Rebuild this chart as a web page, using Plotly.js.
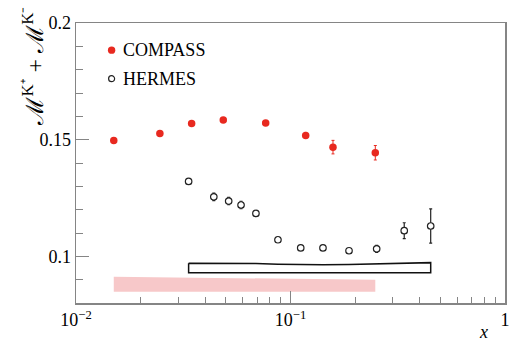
<!DOCTYPE html>
<html>
<head>
<meta charset="utf-8">
<script src="https://cdn.plot.ly/plotly-3.0.1.min.js"></script>
<style>
  html, body { margin: 0; padding: 0; background: #fff; }
  #chart { width: 519px; height: 345px; }
</style>
</head>
<body>
<div id="chart"></div>
<script>
// COMPASS multiplicity sum
const compassX = [0.0150, 0.0246, 0.0346, 0.0486, 0.0766, 0.1177, 0.1578, 0.2485];
const compassY = [0.1496, 0.1526, 0.1569, 0.1584, 0.1571, 0.1518, 0.1468, 0.1444];
const compassErr = [0.0008, 0.0008, 0.0008, 0.0008, 0.0009, 0.0013, 0.0029, 0.0031];
const compassSysTop = [0.0912, 0.0910, 0.0908, 0.0907, 0.0905, 0.0903, 0.0901, 0.0900];
const compassSysBase = 0.0848;

// HERMES multiplicity sum
const hermesX = [0.0335, 0.0439, 0.0515, 0.0588, 0.0690, 0.0874, 0.1116, 0.1417, 0.1874, 0.2522, 0.339, 0.4504];
const hermesY = [0.1321, 0.1255, 0.1237, 0.1220, 0.1184, 0.1071, 0.1036, 0.1036, 0.1024, 0.1032, 0.1110, 0.1130];
const hermesErr = [0.0008, 0.0016, 0.0016, 0.0016, 0.0009, 0.0008, 0.0008, 0.0008, 0.0009, 0.0015, 0.0034, 0.0073];
const hermesSysTop = [0.0970, 0.0970, 0.0970, 0.0970, 0.0969, 0.0966, 0.0964, 0.0964, 0.0965, 0.0967, 0.0972, 0.0973];
const hermesSysBase = 0.0930;

const xTicks = [0.01, 0.1, 1];
const xTickText = ["10<sup>−2</sup>", "10<sup>−1</sup>", "1"];
const yTicks = [0.1, 0.15, 0.2];
const yTickText = ["0.1", "0.15", "0.2"];

const red = "#e8291f";
const frame = "#858585";

// closed outline: top edge left->right, base right->left
function band(xs, top, base) {
    const bx = xs.concat(xs.slice().reverse(), [xs[0]]);
    const by = top.concat(xs.map(() => base), [top[0]]);
    return { bx, by };
}
const cb = band(compassX, compassSysTop, compassSysBase);
const hb = band(hermesX, hermesSysTop, hermesSysBase);

// minor ticks for the log axis
const xMinor = [];
[0.01, 0.1].forEach(d => { for (let k = 2; k <= 9; k++) xMinor.push(d * k); });

const data = [
    {
        x: cb.bx, y: cb.by, mode: "lines", fill: "toself",
        fillcolor: "#f7c8c9", line: { width: 0, color: "#f7c8c9" },
        hoverinfo: "skip", showlegend: false
    },
    {
        x: hb.bx, y: hb.by, mode: "lines", fill: "none",
        line: { width: 1.5, color: "#111" },
        hoverinfo: "skip", showlegend: false
    },
    {
        x: compassX, y: compassY, mode: "markers", name: "COMPASS",
        marker: { color: red, size: 7.5, symbol: "circle" },
        error_y: { type: "data", array: compassErr, color: red, thickness: 1, width: 1.5 },
        showlegend: false
    },
    {
        x: hermesX, y: hermesY, mode: "markers", name: "HERMES",
        marker: { color: "#fff", size: 6.5, symbol: "circle", line: { color: "#222", width: 1.2 } },
        error_y: { type: "data", array: hermesErr, color: "#222", thickness: 1.2, width: 1.5 },
        showlegend: false
    }
];

const font = { family: "Liberation Serif, Times New Roman, serif", size: 18, color: "#000" };

const layout = {
    width: 519,
    height: 345,
    margin: { l: 76, r: 14, t: 23, b: 42 },
    paper_bgcolor: "#fff",
    plot_bgcolor: "#fff",
    font: font,
    showlegend: false,
    xaxis: {
        type: "log",
        range: [-2, 0],
        tickmode: "array",
        tickvals: xTicks,
        ticktext: xTickText,
        ticks: "inside",
        ticklen: 12,
        tickwidth: 1,
        tickcolor: frame,
        minor: { tickmode: "array", tickvals: xMinor, ticks: "inside", ticklen: 6, tickcolor: frame, tickwidth: 1 },
        showgrid: false,
        zeroline: false,
        showline: true,
        linecolor: frame,
        linewidth: 1.5,
        mirror: true,
        tickfont: font
    },
    yaxis: {
        range: [0.08, 0.2],
        tickmode: "array",
        tickvals: yTicks,
        ticktext: yTickText,
        ticks: "inside",
        ticklen: 13,
        tickwidth: 1,
        tickcolor: frame,
        minor: { dtick: 0.01, tick0: 0, ticks: "inside", ticklen: 7, tickcolor: frame, tickwidth: 1 },
        showgrid: false,
        zeroline: false,
        showline: true,
        linecolor: frame,
        linewidth: 1.5,
        mirror: true,
        tickfont: font
    },
    shapes: [
        { type: "circle", xref: "paper", yref: "paper", xsizemode: "pixel", ysizemode: "pixel",
          xanchor: 0.083, yanchor: 0.903, x0: -3.7, x1: 3.7, y0: -3.7, y1: 3.7,
          fillcolor: red, line: { width: 0 } },
        { type: "circle", xref: "paper", yref: "paper", xsizemode: "pixel", ysizemode: "pixel",
          xanchor: 0.083, yanchor: 0.801, x0: -3, x1: 3, y0: -3, y1: 3,
          fillcolor: "#fff", line: { width: 1.2, color: "#222" } }
    ],
    annotations: [
        { text: "COMPASS", xref: "paper", yref: "paper", x: 0.104, y: 0.903,
          xanchor: "left", yanchor: "middle", showarrow: false, font: font },
        { text: "HERMES", xref: "paper", yref: "paper", x: 0.104, y: 0.801,
          xanchor: "left", yanchor: "middle", showarrow: false, font: font },
        { text: "<i>x</i>", xref: "paper", yref: "paper", x: 0.951, y: -0.105,
          xanchor: "center", yanchor: "middle", showarrow: false, font: font },
        { text: "ℳ<sup>K⁺</sup> + ℳ<sup>K⁻</sup>", xref: "paper", yref: "paper",
          x: -0.1, y: 0.845, xanchor: "center", yanchor: "middle", textangle: -90,
          showarrow: false, font: { family: font.family, size: 24, color: "#000" } }
    ]
};

Plotly.newPlot("chart", data, layout, { displayModeBar: false, staticPlot: true });
</script>
</body>
</html>
